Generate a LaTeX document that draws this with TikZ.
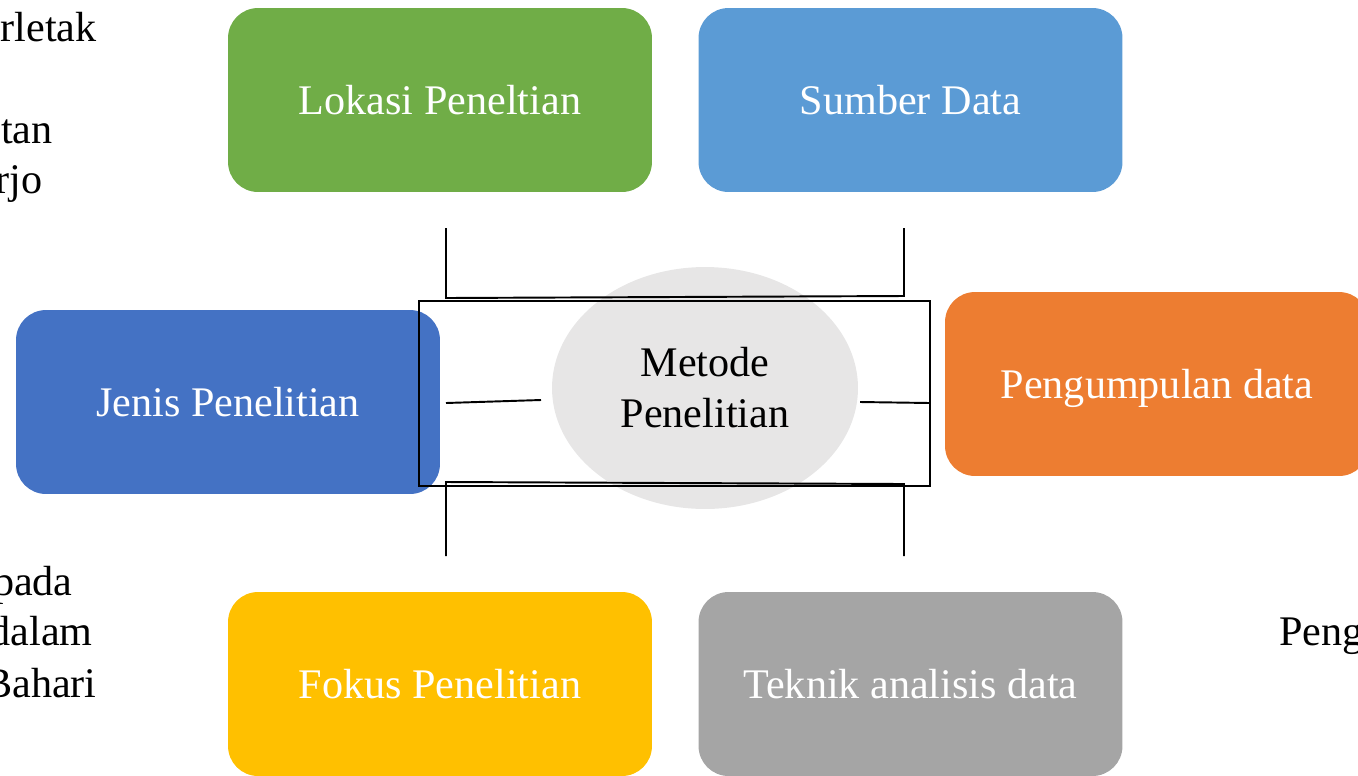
\documentclass[tikz,border=0pt]{standalone}
\usepackage{fontspec}
\setmainfont{Liberation Serif}
\usetikzlibrary{shapes.geometric}
\definecolor{cgreen}{HTML}{70AD47}
\definecolor{clblue}{HTML}{5B9BD5}
\definecolor{cdblue}{HTML}{4472C4}
\definecolor{corange}{HTML}{ED7D31}
\definecolor{cyellow}{HTML}{FFC000}
\definecolor{cgray}{HTML}{A5A5A5}
\definecolor{cell}{HTML}{E7E6E6}
\begin{document}
\begin{tikzpicture}[x=0.02cm,y=-0.02cm,
  lbl/.style={font=\fontsize{24}{28}\selectfont},
  box/.style={lbl, rounded corners=0.6cm, minimum width=8.48cm, minimum height=3.68cm, text=white, inner sep=0pt, text depth=0pt},
  frag/.style={lbl, inner sep=0pt, text=black},
  ln/.style={line width=1.1pt, black}]
\useasboundingbox (0,0) rectangle (1358,775);
\clip (0,0) rectangle (1358,775);
% background text fragments
\node[frag, anchor=base east] (f1) at (97,41) {rletak};
\node[frag, anchor=base east] (f2) at (53,143) {tan};
\node[frag, anchor=base east] (f3) at (43,193) {rjo};
\node[frag, anchor=base east] (f4) at (73,595) {pada};
\node[frag, anchor=base east] (f5) at (93,645) {dalam};
\node[frag, anchor=base east] (f6) at (97,697) {Bahari};
\node[frag, anchor=base west] (f7) at (1279,645) {Peng};
% boxes
\node[box, fill=cgreen] (lok) at (440,100) {Lokasi Peneltian};
\node[box, fill=clblue] (sum) at (910.5,100) {Sumber Data};
\node[box, fill=cdblue] (jen) at (228,402) {Jenis Penelitian};
\node[box, fill=corange] (pen) at (1157,384) {Pengumpulan data};
\node[box, fill=cyellow] (fok) at (440,684) {Fokus Penelitian};
\node[box, fill=cgray] (tek) at (910.5,684) {Teknik analisis data};
% centre
\node[ellipse, fill=cell, minimum width=6.12cm, minimum height=4.84cm, inner sep=0pt, lbl, align=center] (met) at (705,388) {Metode\\[1pt]Penelitian};
\node[draw, ln, minimum width=10.22cm, minimum height=3.7cm, inner sep=0pt] (frame) at (674.5,393.5) {};
% brackets
\coordinate (t1) at (446,228); \coordinate (t2) at (446,298);
\coordinate (t3) at (904,296); \coordinate (t4) at (904,228);
\coordinate (b1) at (446,556); \coordinate (b2) at (446,482);
\coordinate (b3) at (904,484); \coordinate (b4) at (904,556);
\draw[ln] (t1) -- (t2) -- (t3) -- (t4);
\draw[ln] (b1) -- (b2) -- (b3) -- (b4);
\coordinate (l1) at (446,403); \coordinate (l2) at (541,400);
\coordinate (r1) at (860,402); \coordinate (r2) at (930,403);
\draw[ln] (l1) -- (l2);
\draw[ln] (r1) -- (r2);
\end{tikzpicture}
\end{document}
